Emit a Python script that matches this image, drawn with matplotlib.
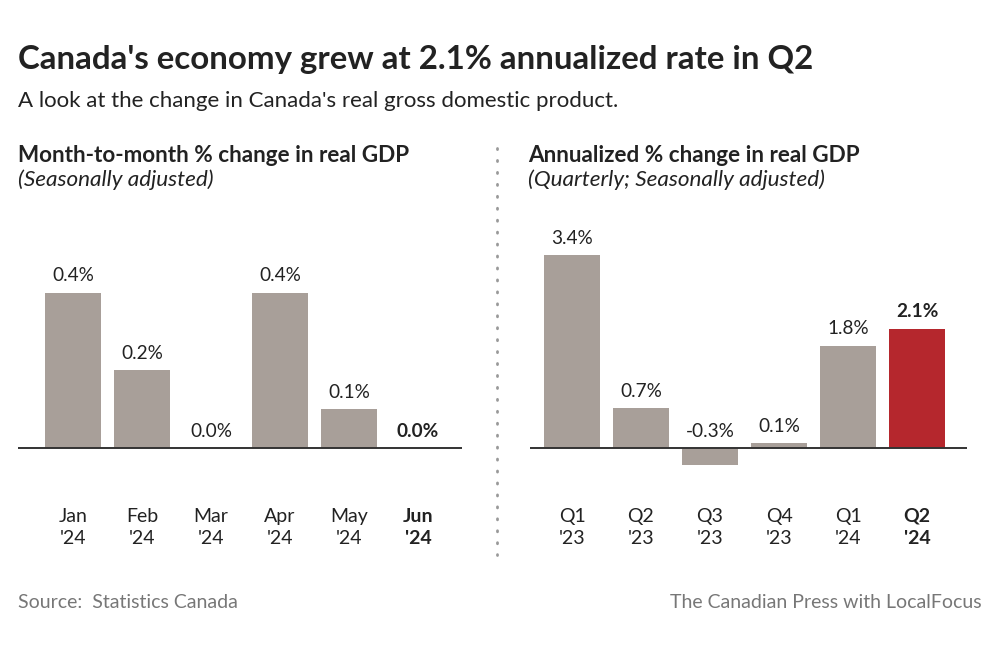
import matplotlib.pyplot as plt
from matplotlib.lines import Line2D

plt.rcParams['font.family'] = ['Lato', 'DejaVu Sans']

# data
months = ["Jan\n'24", "Feb\n'24", "Mar\n'24", "Apr\n'24", "May\n'24", "Jun\n'24"]
monthly_change = [0.4, 0.2, 0.0, 0.4, 0.1, 0.0]
monthly_labels = ["0.4%", "0.2%", "0.0%", "0.4%", "0.1%", "0.0%"]

quarters = ["Q1\n'23", "Q2\n'23", "Q3\n'23", "Q4\n'23", "Q1\n'24", "Q2\n'24"]
annualized_change = [3.4, 0.7, -0.3, 0.09, 1.8, 2.1]
annualized_labels = ["3.4%", "0.7%", "-0.3%", "0.1%", "1.8%", "2.1%"]

GREY = '#a89f99'
RED = '#b5272d'
TEXT = '#222222'

fig = plt.figure(figsize=(10, 6.45), dpi=100)
W, H = 1000, 645


def px_axes(x0, x1, y0, y1):
    # pixel box -> figure fraction
    return fig.add_axes([x0 / W, 1 - y1 / H, (x1 - x0) / W, (y1 - y0) / H])


def draw_panel(ax, cats, vals, labels, xlim, ylim, colors, off):
    x = range(len(cats))
    ax.bar(x, vals, width=0.81, color=colors, zorder=2)
    ax.axhline(0, color='#333333', lw=1.4, zorder=3)
    ax.set_xlim(*xlim)
    ax.set_ylim(*ylim)
    for s in ax.spines.values():
        s.set_visible(False)
    ax.set_yticks([])
    ax.set_xticks(list(x))
    ax.set_xticklabels(cats, fontsize=14, color=TEXT, linespacing=1.38)
    ax.tick_params(axis='x', length=0, pad=20)
    ax.get_xticklabels()[-1].set_fontweight('bold')
    for i, (v, lab) in enumerate(zip(vals, labels)):
        bold = i == len(vals) - 1
        y = max(v, 0)
        ax.annotate(lab, (i, y), xytext=(0, off), textcoords='offset points',
                    ha='center', va='bottom', fontsize=13.7, color=TEXT,
                    fontweight='bold' if bold else 'normal')


ax1 = px_axes(18, 462, 230, 480)
draw_panel(ax1, months, monthly_change, monthly_labels,
           ((18 - 73) / 69, (462 - 73) / 69), (-32 / 388, 218 / 388),
           [GREY] * 6, 6)

ax2 = px_axes(530, 967, 230, 480)
draw_panel(ax2, quarters, annualized_change, annualized_labels,
           ((530 - 572) / 69, (967 - 572) / 69), (-32 / 56.8, 218 / 56.8),
           [GREY] * 5 + [RED], 6)

# titles
fig.text(18 / W, 1 - 60 / H, "Canada's economy grew at 2.1% annualized rate in Q2",
         fontsize=23.8, fontweight='bold', color=TEXT, va='center')
fig.text(18 / W, 1 - 101 / H, "A look at the change in Canada's real gross domestic product.",
         fontsize=16, color=TEXT, va='center')

fig.text(18 / W, 1 - 155 / H, "Month-to-month % change in real GDP",
         fontsize=16.2, fontweight='bold', color=TEXT, va='center')
fig.text(18 / W, 1 - 180 / H, "(Seasonally adjusted)",
         fontsize=16.2, style='italic', color=TEXT, va='center')
fig.text(528 / W, 1 - 155 / H, "Annualized % change in real GDP",
         fontsize=16.2, fontweight='bold', color=TEXT, va='center')
fig.text(528 / W, 1 - 180 / H, "(Quarterly; Seasonally adjusted)",
         fontsize=16.2, style='italic', color=TEXT, va='center')

# dotted divider
fig.add_artist(Line2D([497 / W, 497 / W], [1 - 148 / H, 1 - 555 / H],
                      transform=fig.transFigure, color='#999999', lw=2,
                      linestyle=(0, (0.4, 3.9)), dash_capstyle='round'))

fig.text(18 / W, 1 - 603 / H, "Source:  Statistics Canada",
         fontsize=14, color='#777777', va='center')
fig.text(982 / W, 1 - 603 / H, "The Canadian Press with LocalFocus",
         fontsize=14, color='#777777', va='center', ha='right')

fig.savefig('out.png', dpi=100)
